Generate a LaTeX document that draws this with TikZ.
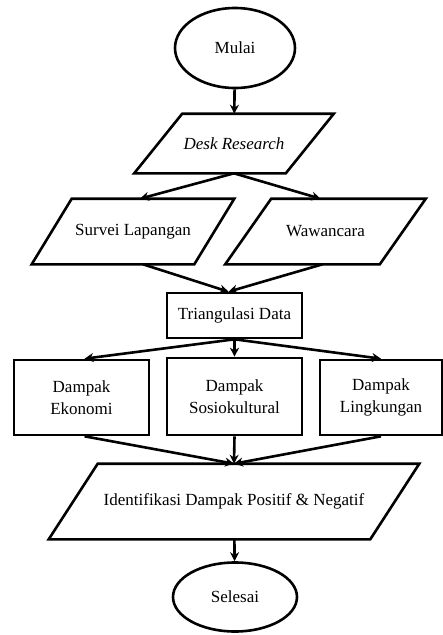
\documentclass[tikz,border=0pt]{standalone}
\usepackage{fontspec}
\setmainfont{Liberation Serif}
\usetikzlibrary{arrows.meta,shapes.geometric}

\begin{document}
\begin{tikzpicture}[x=1pt,y=-1pt,
  font=\fontsize{17}{22}\selectfont,
  line width=2.6pt,
  flowarrow/.style={draw,-{Stealth[length=9pt,width=9pt]}},
  terminal/.style={draw,ellipse,inner sep=0pt},
  iobox/.style={rectangle,inner sep=0pt},
  procbox/.style={draw,rectangle,align=center,inner sep=0pt}]
\useasboundingbox (0,0) rectangle (443,635);

\node[terminal,minimum width=120pt,minimum height=80pt] (mulai) at (235,48) {Mulai};

\node[iobox,minimum width=149pt,minimum height=57pt] (desk) at (234,143.5) {\itshape Desk Research};
\draw ([xshift=24pt]desk.north west) -- ([xshift=24pt]desk.north east)
  -- ([xshift=-24pt]desk.south east) -- ([xshift=-24pt]desk.south west) -- cycle;
\path[flowarrow] (mulai) -- (desk);

\node[iobox,minimum width=160pt,minimum height=63pt] (survei) at (133,231.5) {Survei Lapangan};
\draw ([xshift=20pt]survei.north west) -- ([xshift=20pt]survei.north east)
  -- ([xshift=-20pt]survei.south east) -- ([xshift=-20pt]survei.south west) -- cycle;
\path[flowarrow] (desk.south) -- ([xshift=7pt]survei.north);

\node[iobox,minimum width=152pt,minimum height=63pt] (wawancara) at (325.5,231.5) {Wawancara};
\draw ([xshift=23pt]wawancara.north west) -- ([xshift=23pt]wawancara.north east)
  -- ([xshift=-23pt]wawancara.south east) -- ([xshift=-23pt]wawancara.south west) -- cycle;
\path[flowarrow] (desk.south) -- ([xshift=-5pt]wawancara.north);

\node[procbox,minimum width=135pt,minimum height=45pt] (triangulasi) at (234.5,315.5) {Triangulasi Data};
\path[flowarrow] ([xshift=10pt]survei.south) -- ([xshift=-6pt]triangulasi.north);
\path[flowarrow] ([xshift=-3pt]wawancara.south) -- ([xshift=-6pt]triangulasi.north);

\node[procbox,minimum width=135pt,minimum height=75pt] (ekonomi) at (81.5,397.5) {Dampak\\Ekonomi};
\path[flowarrow] (triangulasi.south) -- ([xshift=3pt]ekonomi.north);
\node[procbox,minimum width=135pt,minimum height=77pt] (sosio) at (234.5,396.5) {Dampak\\Sosiokultural};
\path[flowarrow] (triangulasi.south) -- (sosio.north);
\node[procbox,minimum width=122pt,minimum height=75pt] (lingkungan) at (381,397.5) {Dampak\\Lingkungan};
\path[flowarrow] (triangulasi.south) -- (lingkungan.north);

\node[iobox,minimum width=319pt,minimum height=73pt] (identifikasi) at (234,501.5) {Identifikasi Dampak Positif \& Negatif};
\draw ([xshift=24.5pt]identifikasi.north west) -- ([xshift=24.5pt]identifikasi.north east)
  -- ([xshift=-24.5pt]identifikasi.south east) -- ([xshift=-24.5pt]identifikasi.south west) -- cycle;
\path[flowarrow] ([xshift=3pt]ekonomi.south) -- (identifikasi.north);
\path[flowarrow] (sosio.south) -- (identifikasi.north);
\path[flowarrow] (lingkungan.south) -- (identifikasi.north);

\node[terminal,minimum width=124pt,minimum height=69pt] (selesai) at (235,597) {Selesai};
\path[flowarrow] (identifikasi) -- (selesai);
\end{tikzpicture}
\end{document}
